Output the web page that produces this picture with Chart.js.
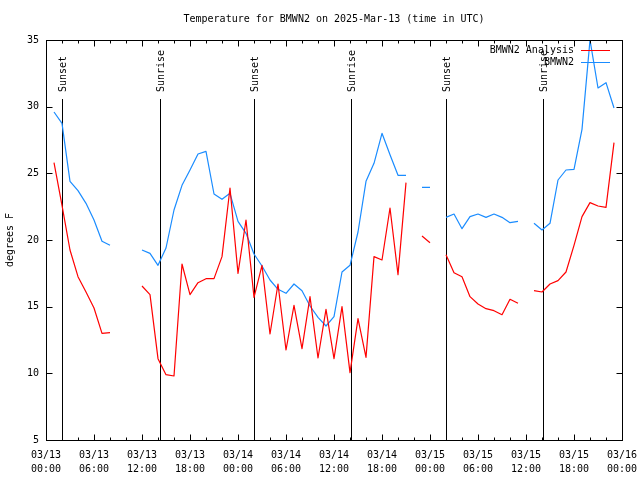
<!DOCTYPE html>
<html>
<head>
<meta charset="utf-8">
<script src="https://cdn.jsdelivr.net/npm/chart.js@4/dist/chart.umd.min.js"></script>
<style>
html,body{margin:0;padding:0;background:#fff;}
canvas{display:block;}
</style>
</head>
<body>
<canvas id="c" width="640" height="480"></canvas>
<script>
// ---- data ----
const chartTitle = 'Temperature for BMWN2 on 2025-Mar-13 (time in UTC)';
const yAxisTitle = 'degrees F';
// hours since 03/13 00:00 UTC
const hours = [0,1,2,3,4,5,6,7,8,9,10,11,12,13,14,15,16,17,18,19,20,21,22,23,24,
  25,26,27,28,29,30,31,32,33,34,35,36,37,38,39,40,41,42,43,44,45,46,47,48,
  49,50,51,52,53,54,55,56,57,58,59,60,61,62,63,64,65,66,67,68,69,70,71,72];
const analysisTemps = [null,25.8,22.6,19.25,17.25,16.1,14.9,13.0,13.05,null,null,null,
  16.55,15.9,11.1,9.9,9.8,18.2,15.9,16.8,17.1,17.1,18.75,23.9,17.5,21.5,15.7,18.1,
  12.95,16.7,11.75,15.1,11.85,15.75,11.15,14.8,11.1,15.0,10.05,14.1,11.2,18.75,18.5,
  22.4,17.4,24.3,null,20.3,19.8,null,18.9,17.55,17.25,15.75,15.2,14.85,14.7,14.4,
  15.55,15.25,null,16.2,16.1,16.7,16.95,17.6,19.6,21.75,22.8,22.55,22.45,27.3,null];
const observedTemps = [null,29.6,28.75,24.4,23.7,22.75,21.5,19.9,19.6,null,null,null,
  19.25,19.0,18.1,19.4,22.25,24.1,25.25,26.45,26.65,23.45,23.05,23.5,21.4,20.5,18.95,
  18.05,17.0,16.3,16.0,16.7,16.2,15.05,14.2,13.55,14.25,17.6,18.1,20.6,24.4,25.75,
  28.0,26.4,24.85,24.85,null,23.95,23.95,null,21.7,21.95,20.85,21.75,21.95,21.7,
  21.95,21.7,21.3,21.4,null,21.25,20.75,21.25,24.5,25.25,25.3,28.3,35.0,31.4,31.8,29.9,null];
const seriesNames = ['BMWN2 Analysis','BMWN2'];
const xTickLabels = [['03/13','00:00'],['03/13','06:00'],['03/13','12:00'],['03/13','18:00'],
  ['03/14','00:00'],['03/14','06:00'],['03/14','12:00'],['03/14','18:00'],
  ['03/15','00:00'],['03/15','06:00'],['03/15','12:00'],['03/15','18:00'],['03/16','00:00']];
const yTickValues = [5,10,15,20,25,30,35];
const eventNames = ['Sunset','Sunrise','Sunset','Sunrise','Sunset','Sunrise'];
const eventHours = [2.05,14.28,26.05,38.15,49.95,62.17];

// ---- styles ----
const FONT = '10px "DejaVu Sans Mono", "Liberation Mono", monospace';
const RED = '#ff0000';
const BLUE = '#1a8cff';

function pts(vals){ return hours.map((h,i)=>({x:h, y:vals[i]})); }

function line(ctx,x1,y1,x2,y2){ ctx.beginPath(); ctx.moveTo(x1,y1); ctx.lineTo(x2,y2); ctx.stroke(); }

const overlay = {
  id:'overlay',
  beforeDatasetsDraw(chart){
    const {ctx, chartArea:a, scales:{x}} = chart;
    ctx.save();
    ctx.strokeStyle='#000'; ctx.lineWidth=1; ctx.fillStyle='#000';
    ctx.font = FONT;
    eventHours.forEach((t,i)=>{
      const px = Math.round(x.getPixelForValue(t))+0.5;
      line(ctx, px, a.top+59, px, a.bottom);
      ctx.save();
      ctx.translate(px+1, a.top+52);
      ctx.rotate(-Math.PI/2);
      ctx.textAlign='left'; ctx.textBaseline='middle';
      ctx.fillText(eventNames[i],0,0);
      ctx.restore();
    });
    ctx.restore();
  },
  afterDatasetsDraw(chart){
    const {ctx, chartArea:a, scales:{x,y}} = chart;
    ctx.save();
    ctx.strokeStyle='#000'; ctx.lineWidth=1; ctx.fillStyle='#000';
    const L=Math.round(a.left)+0.5, R=Math.round(a.right)+0.5, T=Math.round(a.top)+0.5, B=Math.round(a.bottom)+0.5;
    ctx.strokeRect(L,T,R-L,B-T);
    for(let h=x.min; h<=x.max; h+=2){
      const px=Math.round(x.getPixelForValue(h))+0.5;
      const len=(h%6===0)?6:3;
      line(ctx,px,B,px,B-len); line(ctx,px,T,px,T+len);
    }
    yTickValues.forEach(v=>{
      const py=Math.round(y.getPixelForValue(v))+0.5;
      line(ctx,L,py,L+6,py); line(ctx,R,py,R-6,py);
    });
    // title
    ctx.font=FONT; ctx.textAlign='center'; ctx.textBaseline='middle';
    ctx.fillText(chartTitle,(a.left+a.right)/2,19);
    // y axis title
    ctx.save(); ctx.translate(10,(a.top+a.bottom)/2); ctx.rotate(-Math.PI/2);
    ctx.fillText(yAxisTitle,0,0); ctx.restore();
    // legend
    chart.data.datasets.forEach((ds,i)=>{
      const ly=Math.round(a.top+10+i*12)+0.5;
      ctx.textAlign='right'; ctx.textBaseline='middle'; ctx.fillStyle='#000';
      ctx.fillText(ds.label, a.right-48, ly);
      ctx.strokeStyle=ds.borderColor;
      line(ctx, a.right-41, ly, a.right-12, ly);
    });
    ctx.restore();
  }
};

new Chart(document.getElementById('c'), {
  type:'line',
  data:{
    datasets:[
      {label:seriesNames[0], data:pts(analysisTemps), borderColor:RED, borderWidth:1.2, borderJoinStyle:'round', pointRadius:0, tension:0, spanGaps:false, fill:false},
      {label:seriesNames[1], data:pts(observedTemps), borderColor:BLUE, borderWidth:1.2, borderJoinStyle:'round', pointRadius:0, tension:0, spanGaps:false, fill:false}
    ]
  },
  options:{
    responsive:false, animation:false, devicePixelRatio:1,
    layout:{padding:{top:40,right:18,left:0,bottom:0}},
    plugins:{legend:{display:false}, title:{display:false}, tooltip:{enabled:false}},
    scales:{
      x:{type:'linear', min:0, max:72,
        grid:{display:false, drawTicks:false},
        border:{display:false},
        ticks:{stepSize:6, autoSkip:false, maxRotation:0, padding:8, color:'#000',
          font:{family:'"DejaVu Sans Mono", monospace', size:10, lineHeight:1.4},
          callback:(v)=>xTickLabels[v/6]},
        afterFit:(s)=>{s.height=40; s.paddingLeft=0; s.paddingRight=0;}
      },
      y:{min:5, max:35,
        grid:{display:false, drawTicks:false},
        border:{display:false},
        ticks:{stepSize:5, padding:7, color:'#000',
          font:{family:'"DejaVu Sans Mono", monospace', size:10}},
        afterFit:(s)=>{s.width=46; s.paddingTop=0; s.paddingBottom=0;}
      }
    }
  },
  plugins:[overlay]
});
</script>
</body>
</html>
